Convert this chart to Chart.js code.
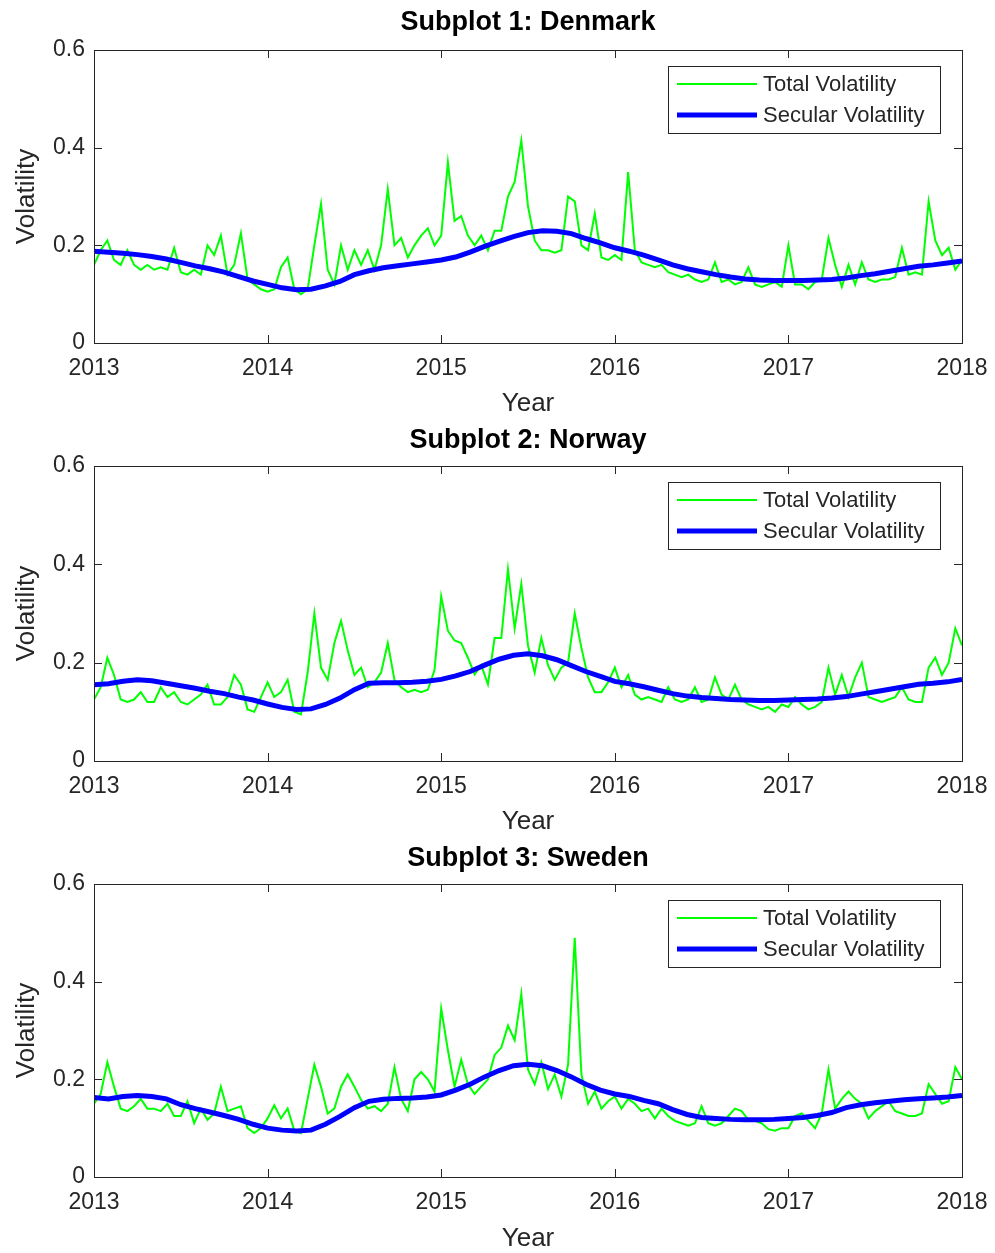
<!DOCTYPE html>
<html>
<head>
<meta charset="utf-8">
<script src="https://cdn.jsdelivr.net/npm/chart.js@4.4.0/dist/chart.umd.min.js"></script>
<style>
  html, body { margin: 0; padding: 0; background: #fff; }
  #wrap { position: relative; width: 995px; height: 1253px; }
  .panel { position: absolute; left: 0; width: 995px; }
</style>
</head>
<body>
<div id="wrap">
  <div class="panel" style="top:0px"><canvas id="c1" width="995" height="418"></canvas></div>
  <div class="panel" style="top:418px"><canvas id="c2" width="995" height="418"></canvas></div>
  <div class="panel" style="top:836px"><canvas id="c3" width="995" height="417"></canvas></div>
</div>
<script>
// axis ticks
const yearTicks = [2013, 2014, 2015, 2016, 2017, 2018];
const volTicks = [0, 0.2, 0.4, 0.6];
const seriesNames = ['Total Volatility', 'Secular Volatility'];

// sampling: total volatility every two weeks, secular volatility monthly, from 2013
const startYear = 2013;
const totalStep = 1 / 26;
const secularStep = 1 / 12;

// Subplot 1: Denmark
const denmarkTotal = [
  0.16, 0.19, 0.21, 0.17, 0.16, 0.19, 0.16, 0.15, 0.16, 0.15,
  0.155, 0.15, 0.195, 0.145, 0.14, 0.15, 0.14, 0.2, 0.18, 0.22,
  0.14, 0.16, 0.225, 0.13, 0.12, 0.11, 0.105, 0.11, 0.155, 0.175,
  0.11, 0.1, 0.11, 0.2, 0.285, 0.15, 0.12, 0.2, 0.15, 0.19,
  0.16, 0.19, 0.15, 0.2, 0.315, 0.2, 0.215, 0.175, 0.2, 0.22,
  0.235, 0.2, 0.22, 0.37, 0.25, 0.26, 0.22, 0.2, 0.22, 0.19,
  0.23, 0.23, 0.3, 0.33, 0.415, 0.28, 0.21, 0.19, 0.19, 0.185,
  0.19, 0.3, 0.29, 0.2, 0.19, 0.265, 0.175, 0.17, 0.18, 0.17,
  0.35, 0.19, 0.165, 0.16, 0.155, 0.16, 0.145, 0.14, 0.135, 0.14,
  0.13, 0.125, 0.13, 0.165, 0.125, 0.13, 0.12, 0.125, 0.155, 0.12,
  0.115, 0.12, 0.125, 0.115, 0.2, 0.12, 0.12, 0.11, 0.125, 0.13,
  0.215, 0.16, 0.115, 0.16, 0.12, 0.165, 0.13, 0.125, 0.13, 0.13,
  0.135, 0.195, 0.14, 0.145, 0.14, 0.29, 0.21, 0.18, 0.195, 0.15,
  0.17
];
const denmarkSecular = [
  0.188, 0.186, 0.184, 0.181, 0.177, 0.172, 0.165, 0.158, 0.152, 0.145,
  0.136, 0.127, 0.12, 0.113, 0.109, 0.11, 0.117, 0.126, 0.14, 0.148,
  0.154, 0.158, 0.162, 0.166, 0.17, 0.176, 0.186, 0.198, 0.208, 0.218,
  0.226, 0.23, 0.229, 0.224, 0.214, 0.205, 0.195, 0.188, 0.18, 0.17,
  0.16, 0.152, 0.146, 0.14, 0.135, 0.131, 0.129, 0.128, 0.128, 0.128,
  0.129, 0.13, 0.133, 0.138, 0.142, 0.147, 0.152, 0.157, 0.16, 0.164,
  0.168
];

// Subplot 2: Norway
const norwayTotal = [
  0.125, 0.15, 0.21, 0.175, 0.125, 0.12, 0.125, 0.14, 0.12, 0.12,
  0.15, 0.13, 0.14, 0.12, 0.115, 0.125, 0.135, 0.155, 0.115, 0.115,
  0.13, 0.175, 0.155, 0.105, 0.1, 0.13, 0.16, 0.13, 0.14, 0.165,
  0.1, 0.095, 0.18, 0.3, 0.19, 0.165, 0.24, 0.285, 0.225, 0.175,
  0.19, 0.15, 0.16, 0.18, 0.24, 0.165, 0.15, 0.14, 0.145, 0.14,
  0.145, 0.185, 0.335, 0.265, 0.245, 0.24, 0.21, 0.176, 0.195, 0.156,
  0.25, 0.25, 0.39, 0.27, 0.36, 0.235, 0.18, 0.25, 0.195, 0.165,
  0.19, 0.2, 0.3, 0.23, 0.17, 0.14, 0.14, 0.16, 0.19, 0.15,
  0.175, 0.135, 0.125, 0.13, 0.125, 0.12, 0.15, 0.125, 0.12, 0.125,
  0.15, 0.12, 0.125, 0.17, 0.135, 0.125, 0.155, 0.125, 0.115, 0.11,
  0.105, 0.11, 0.1, 0.115, 0.11, 0.13, 0.115, 0.105, 0.11, 0.12,
  0.19, 0.135, 0.175, 0.13, 0.17, 0.2, 0.13, 0.125, 0.12, 0.125,
  0.13, 0.15, 0.125, 0.12, 0.12, 0.19, 0.21, 0.175, 0.2, 0.27,
  0.235
];
const norwaySecular = [
  0.155, 0.157, 0.162, 0.165, 0.163, 0.158, 0.153, 0.148, 0.142, 0.137,
  0.13, 0.124, 0.116, 0.109, 0.105, 0.106, 0.115, 0.128, 0.145, 0.158,
  0.159, 0.159, 0.16, 0.162, 0.166, 0.173, 0.182, 0.195, 0.207, 0.215,
  0.218, 0.214, 0.206, 0.194, 0.182, 0.172, 0.162, 0.157, 0.151, 0.144,
  0.137, 0.132, 0.129, 0.127, 0.125, 0.124, 0.123, 0.123, 0.124, 0.125,
  0.126, 0.128, 0.131, 0.136, 0.141, 0.146, 0.151, 0.156, 0.158, 0.161,
  0.166
];

// Subplot 3: Sweden
const swedenTotal = [
  0.15, 0.17, 0.235, 0.185, 0.14, 0.135, 0.145, 0.16, 0.14, 0.14,
  0.135, 0.15, 0.125, 0.125, 0.155, 0.11, 0.14, 0.117, 0.13, 0.185,
  0.135, 0.14, 0.145, 0.1, 0.09, 0.1, 0.12, 0.147, 0.12, 0.14,
  0.095, 0.09, 0.16, 0.23, 0.185, 0.13, 0.14, 0.185, 0.21, 0.185,
  0.158, 0.14, 0.145, 0.135, 0.15, 0.225, 0.16, 0.135, 0.2, 0.215,
  0.2, 0.175, 0.345, 0.26, 0.185, 0.24, 0.19, 0.17, 0.185, 0.2,
  0.25, 0.265, 0.31, 0.28, 0.375, 0.22, 0.19, 0.235, 0.18, 0.21,
  0.165, 0.23, 0.49, 0.21, 0.15, 0.175, 0.14, 0.155, 0.165, 0.14,
  0.16, 0.15, 0.135, 0.14, 0.12, 0.14, 0.125, 0.115, 0.11, 0.105,
  0.11, 0.145, 0.11, 0.105, 0.11, 0.125, 0.14, 0.135, 0.117, 0.115,
  0.11, 0.098, 0.095, 0.1, 0.1, 0.125, 0.13, 0.115, 0.1, 0.13,
  0.22, 0.14, 0.16, 0.175, 0.16, 0.15, 0.12, 0.135, 0.145, 0.155,
  0.135, 0.13, 0.125, 0.125, 0.13, 0.19, 0.17, 0.15, 0.155, 0.225,
  0.2
];
const swedenSecular = [
  0.163, 0.16, 0.165, 0.167, 0.165, 0.16, 0.148, 0.14, 0.133, 0.126,
  0.118, 0.108, 0.1, 0.096, 0.094, 0.096, 0.108, 0.124, 0.142, 0.155,
  0.159, 0.161, 0.162, 0.164, 0.168, 0.178, 0.19, 0.205, 0.218, 0.228,
  0.231, 0.228, 0.218, 0.205, 0.19, 0.178, 0.17, 0.165, 0.157, 0.15,
  0.138, 0.128, 0.122, 0.12, 0.118, 0.117, 0.117, 0.118, 0.12, 0.122,
  0.126, 0.132, 0.142, 0.148, 0.152, 0.155, 0.158, 0.16, 0.162, 0.164,
  0.167
];

const FONT = '"Liberation Sans", Arial, Helvetica, sans-serif';
const AXIS_COLOR = '#262626';
Chart.defaults.font.family = FONT;

// box, inward ticks, legend and title, drawn like the original figure
const matlabFrame = {
  id: 'matlabFrame',
  afterDatasetsDraw(chart, args, opts) {
    const { ctx, chartArea: a, scales: { x, y } } = chart;
    ctx.save();
    ctx.strokeStyle = AXIS_COLOR;
    ctx.lineWidth = 1;
    ctx.strokeRect(a.left + 0.5, a.top + 0.5, a.right - a.left, a.bottom - a.top);
    ctx.beginPath();
    yearTicks.forEach(v => {
      const px = Math.round(x.getPixelForValue(v)) + 0.5;
      ctx.moveTo(px, a.bottom); ctx.lineTo(px, a.bottom - 8);
      ctx.moveTo(px, a.top); ctx.lineTo(px, a.top + 8);
    });
    volTicks.forEach(v => {
      const py = Math.round(y.getPixelForValue(v)) + 0.5;
      ctx.moveTo(a.left, py); ctx.lineTo(a.left + 8, py);
      ctx.moveTo(a.right, py); ctx.lineTo(a.right - 8, py);
    });
    ctx.stroke();

    // legend box, top right inside the axes
    const lx = a.right - 294, ly = a.top + 16;
    ctx.fillStyle = '#fff';
    ctx.fillRect(lx, ly, 272, 67);
    ctx.strokeRect(lx + 0.5, ly + 0.5, 272, 67);
    chart.data.datasets.slice().sort((p, q) => q.order - p.order).forEach((ds, k) => {
      const ry = ly + 18 + k * 31;
      ctx.strokeStyle = ds.borderColor;
      ctx.lineWidth = ds.borderWidth;
      ctx.beginPath();
      ctx.moveTo(lx + 9, ry); ctx.lineTo(lx + 89, ry);
      ctx.stroke();
      ctx.fillStyle = AXIS_COLOR;
      ctx.font = '22px ' + FONT;
      ctx.textAlign = 'left';
      ctx.textBaseline = 'middle';
      ctx.fillText(ds.label, lx + 95, ry + 1);
    });

    // subplot title
    ctx.fillStyle = '#000';
    ctx.font = 'bold 27px ' + FONT;
    ctx.textAlign = 'center';
    ctx.textBaseline = 'middle';
    ctx.fillText(opts.title, (a.left + a.right) / 2, 23);
    ctx.restore();
  }
};

function makePanel(canvasId, title, total, secular, areaTop, areaBottom) {
  const canvas = document.getElementById(canvasId);
  const h = canvas.height;
  const totalPoints = total.map((v, i) => ({ x: startYear + i * totalStep, y: v }));
  const secularPoints = secular.map((v, i) => ({ x: startYear + i * secularStep, y: v }));
  const tickFont = { size: 23 };
  return new Chart(canvas, {
    type: 'line',
    data: {
      datasets: [
        {
          label: seriesNames[1],
          data: secularPoints,
          borderColor: '#0000ff',
          borderWidth: 5,
          pointRadius: 0,
          tension: 0,
          order: 0
        },
        {
          label: seriesNames[0],
          data: totalPoints,
          borderColor: '#00ff00',
          borderWidth: 2,
          pointRadius: 0,
          tension: 0,
          order: 1
        }
      ]
    },
    options: {
      responsive: false,
      animation: false,
      events: [],
      layout: { padding: { top: areaTop, right: 33, bottom: 0, left: 0 } },
      plugins: {
        legend: { display: false },
        tooltip: { enabled: false },
        matlabFrame: { title: title }
      },
      scales: {
        x: {
          type: 'linear',
          min: 2013,
          max: 2018,
          afterBuildTicks: s => { s.ticks = yearTicks.map(v => ({ value: v })); },
          afterFit: s => {
            s.height = h - areaBottom;
            s.paddingLeft = 0;
            s.paddingRight = 0;
          },
          grid: { display: false, drawTicks: false },
          border: { display: false },
          ticks: {
            callback: v => String(v),
            padding: 12,
            maxRotation: 0,
            autoSkip: false,
            color: AXIS_COLOR,
            font: tickFont
          },
          title: {
            display: true,
            text: 'Year',
            color: AXIS_COLOR,
            font: { size: 26, lineHeight: 1.1 },
            padding: { top: 0, bottom: 0 }
          }
        },
        y: {
          type: 'linear',
          min: 0,
          max: 0.6,
          afterBuildTicks: s => { s.ticks = volTicks.map(v => ({ value: v })); },
          afterFit: s => {
            s.width = 94;
            s.paddingTop = 0;
            s.paddingBottom = 0;
          },
          grid: { display: false, drawTicks: false },
          border: { display: false },
          ticks: {
            padding: 9,
            color: AXIS_COLOR,
            font: tickFont
          },
          title: {
            display: true,
            text: 'Volatility',
            color: AXIS_COLOR,
            font: { size: 26, lineHeight: 1.1 },
            padding: { top: 13, bottom: 0 }
          }
        }
      }
    },
    plugins: [matlabFrame]
  });
}

makePanel('c1', 'Subplot 1: Denmark', denmarkTotal, denmarkSecular, 50, 343);
makePanel('c2', 'Subplot 2: Norway', norwayTotal, norwaySecular, 48, 343);
makePanel('c3', 'Subplot 3: Sweden', swedenTotal, swedenSecular, 48, 341);
</script>
</body>
</html>
